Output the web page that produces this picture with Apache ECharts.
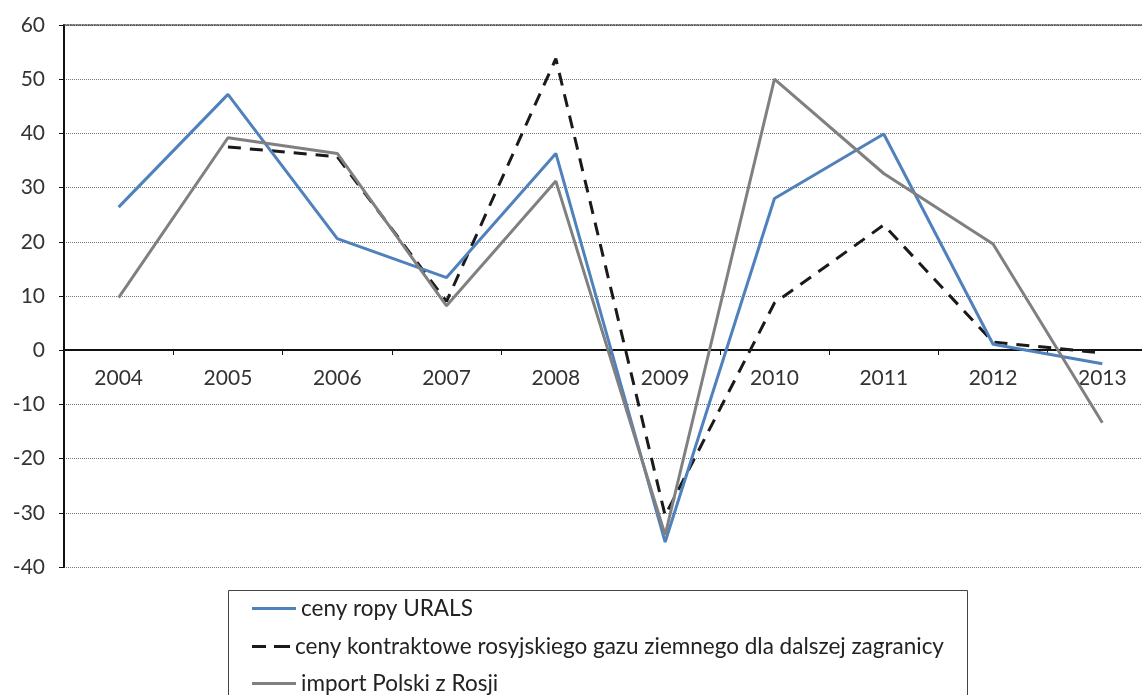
<!DOCTYPE html>
<html>
<head>
<meta charset="utf-8">
<script src="https://cdn.jsdelivr.net/npm/echarts@6/dist/echarts.min.js"></script>
<style>
html,body{margin:0;padding:0;background:#fff;}
#chart{width:1142px;height:695px;}
</style>
</head>
<body>
<div id="chart"></div>
<script>
const categories = ['2004','2005','2006','2007','2008','2009','2010','2011','2012','2013'];
const seriesNames = [
  'ceny ropy URALS',
  'ceny kontraktowe rosyjskiego gazu ziemnego dla dalszej zagranicy',
  'import Polski z Rosji'
];
const uralsValues = [26.4, 47.2, 20.6, 13.4, 36.3, -35.4, 28.0, 39.9, 1.1, -2.5];
const gasValues = [null, 37.5, 35.7, 9.0, 53.8, -30.5, 8.7, 23.1, 1.5, -0.5];
const importValues = [9.7, 39.2, 36.3, 8.2, 31.2, -34.1, 50.0, 32.6, 19.6, -13.4];
const yMin = -40, yMax = 60, yStep = 10;

const font = 'Lato, "Open Sans", sans-serif';
const colors = ['#4F81BD', '#1a1a1a', '#808080'];

const gridTop = 25, gridHeight = 542;
const zeroOffset = -Math.round(gridHeight * (0 - yMin) / (yMax - yMin));

function legendFor(i, top, icon, w) {
  return {
    orient: 'horizontal', left: 252, top: top, padding: 0,
    itemWidth: w, itemHeight: 3,
    icon: icon,
    textStyle: { fontFamily: font, fontSize: 22.5, color: '#222' },
    data: [seriesNames[i]]
  };
}

const chart = echarts.init(document.getElementById('chart'));
chart.setOption({
  animation: false,
  backgroundColor: '#fff',
  grid: { left: 64, width: 1093, top: gridTop, height: gridHeight, containLabel: false, outerBoundsMode: 'none' },
  legend: [
    legendFor(0, 597, 'rect', 44),
    legendFor(1, 635, 'path://M0,0H14V3H0Z M22,0H38V3H22Z', 38),
    legendFor(2, 672, 'rect', 44)
  ],
  graphic: [{
    type: 'rect', silent: true,
    shape: { x: 228.5, y: 590.5, width: 739, height: 140 },
    style: { fill: 'none', stroke: '#444', lineWidth: 1 }
  }],
  xAxis: [{
    type: 'category',
    data: categories,
    boundaryGap: true,
    position: 'bottom',
    offset: zeroOffset,
    axisLine: { onZero: false, lineStyle: { color: '#111', width: 2 } },
    axisTick: { show: true, length: 5, lineStyle: { color: '#111', width: 1 } },
    axisLabel: { fontFamily: font, fontSize: 21, color: '#333', margin: 18 },
    splitLine: { show: false }
  }, {
    type: 'category',
    data: categories,
    position: 'top',
    axisLine: { show: true, onZero: false, lineStyle: { color: '#444', width: 1.5, type: 'dotted' } },
    axisTick: { show: false },
    axisLabel: { show: false }
  }],
  yAxis: {
    type: 'value',
    min: yMin, max: yMax, interval: yStep,
    axisLine: { show: true, onZero: false, lineStyle: { color: '#111', width: 2 } },
    axisTick: { show: true, length: 5, lineStyle: { color: '#111' } },
    axisLabel: { fontFamily: font, fontSize: 21, color: '#333', margin: 19 },
    splitLine: { show: true, lineStyle: { color: '#777', width: 1, type: 'dotted' } }
  },
  series: [
    {
      name: seriesNames[0], type: 'line', data: uralsValues,
      symbol: 'none', lineStyle: { color: colors[0], width: 3 },
      itemStyle: { color: colors[0] }, z: 3
    },
    {
      name: seriesNames[1], type: 'line', data: gasValues,
      symbol: 'none', lineStyle: { color: colors[1], width: 3, type: [13, 9] },
      itemStyle: { color: colors[1] }, z: 2
    },
    {
      name: seriesNames[2], type: 'line', data: importValues,
      symbol: 'none', lineStyle: { color: colors[2], width: 3 },
      itemStyle: { color: colors[2] }, z: 4
    }
  ]
});
</script>
</body>
</html>
